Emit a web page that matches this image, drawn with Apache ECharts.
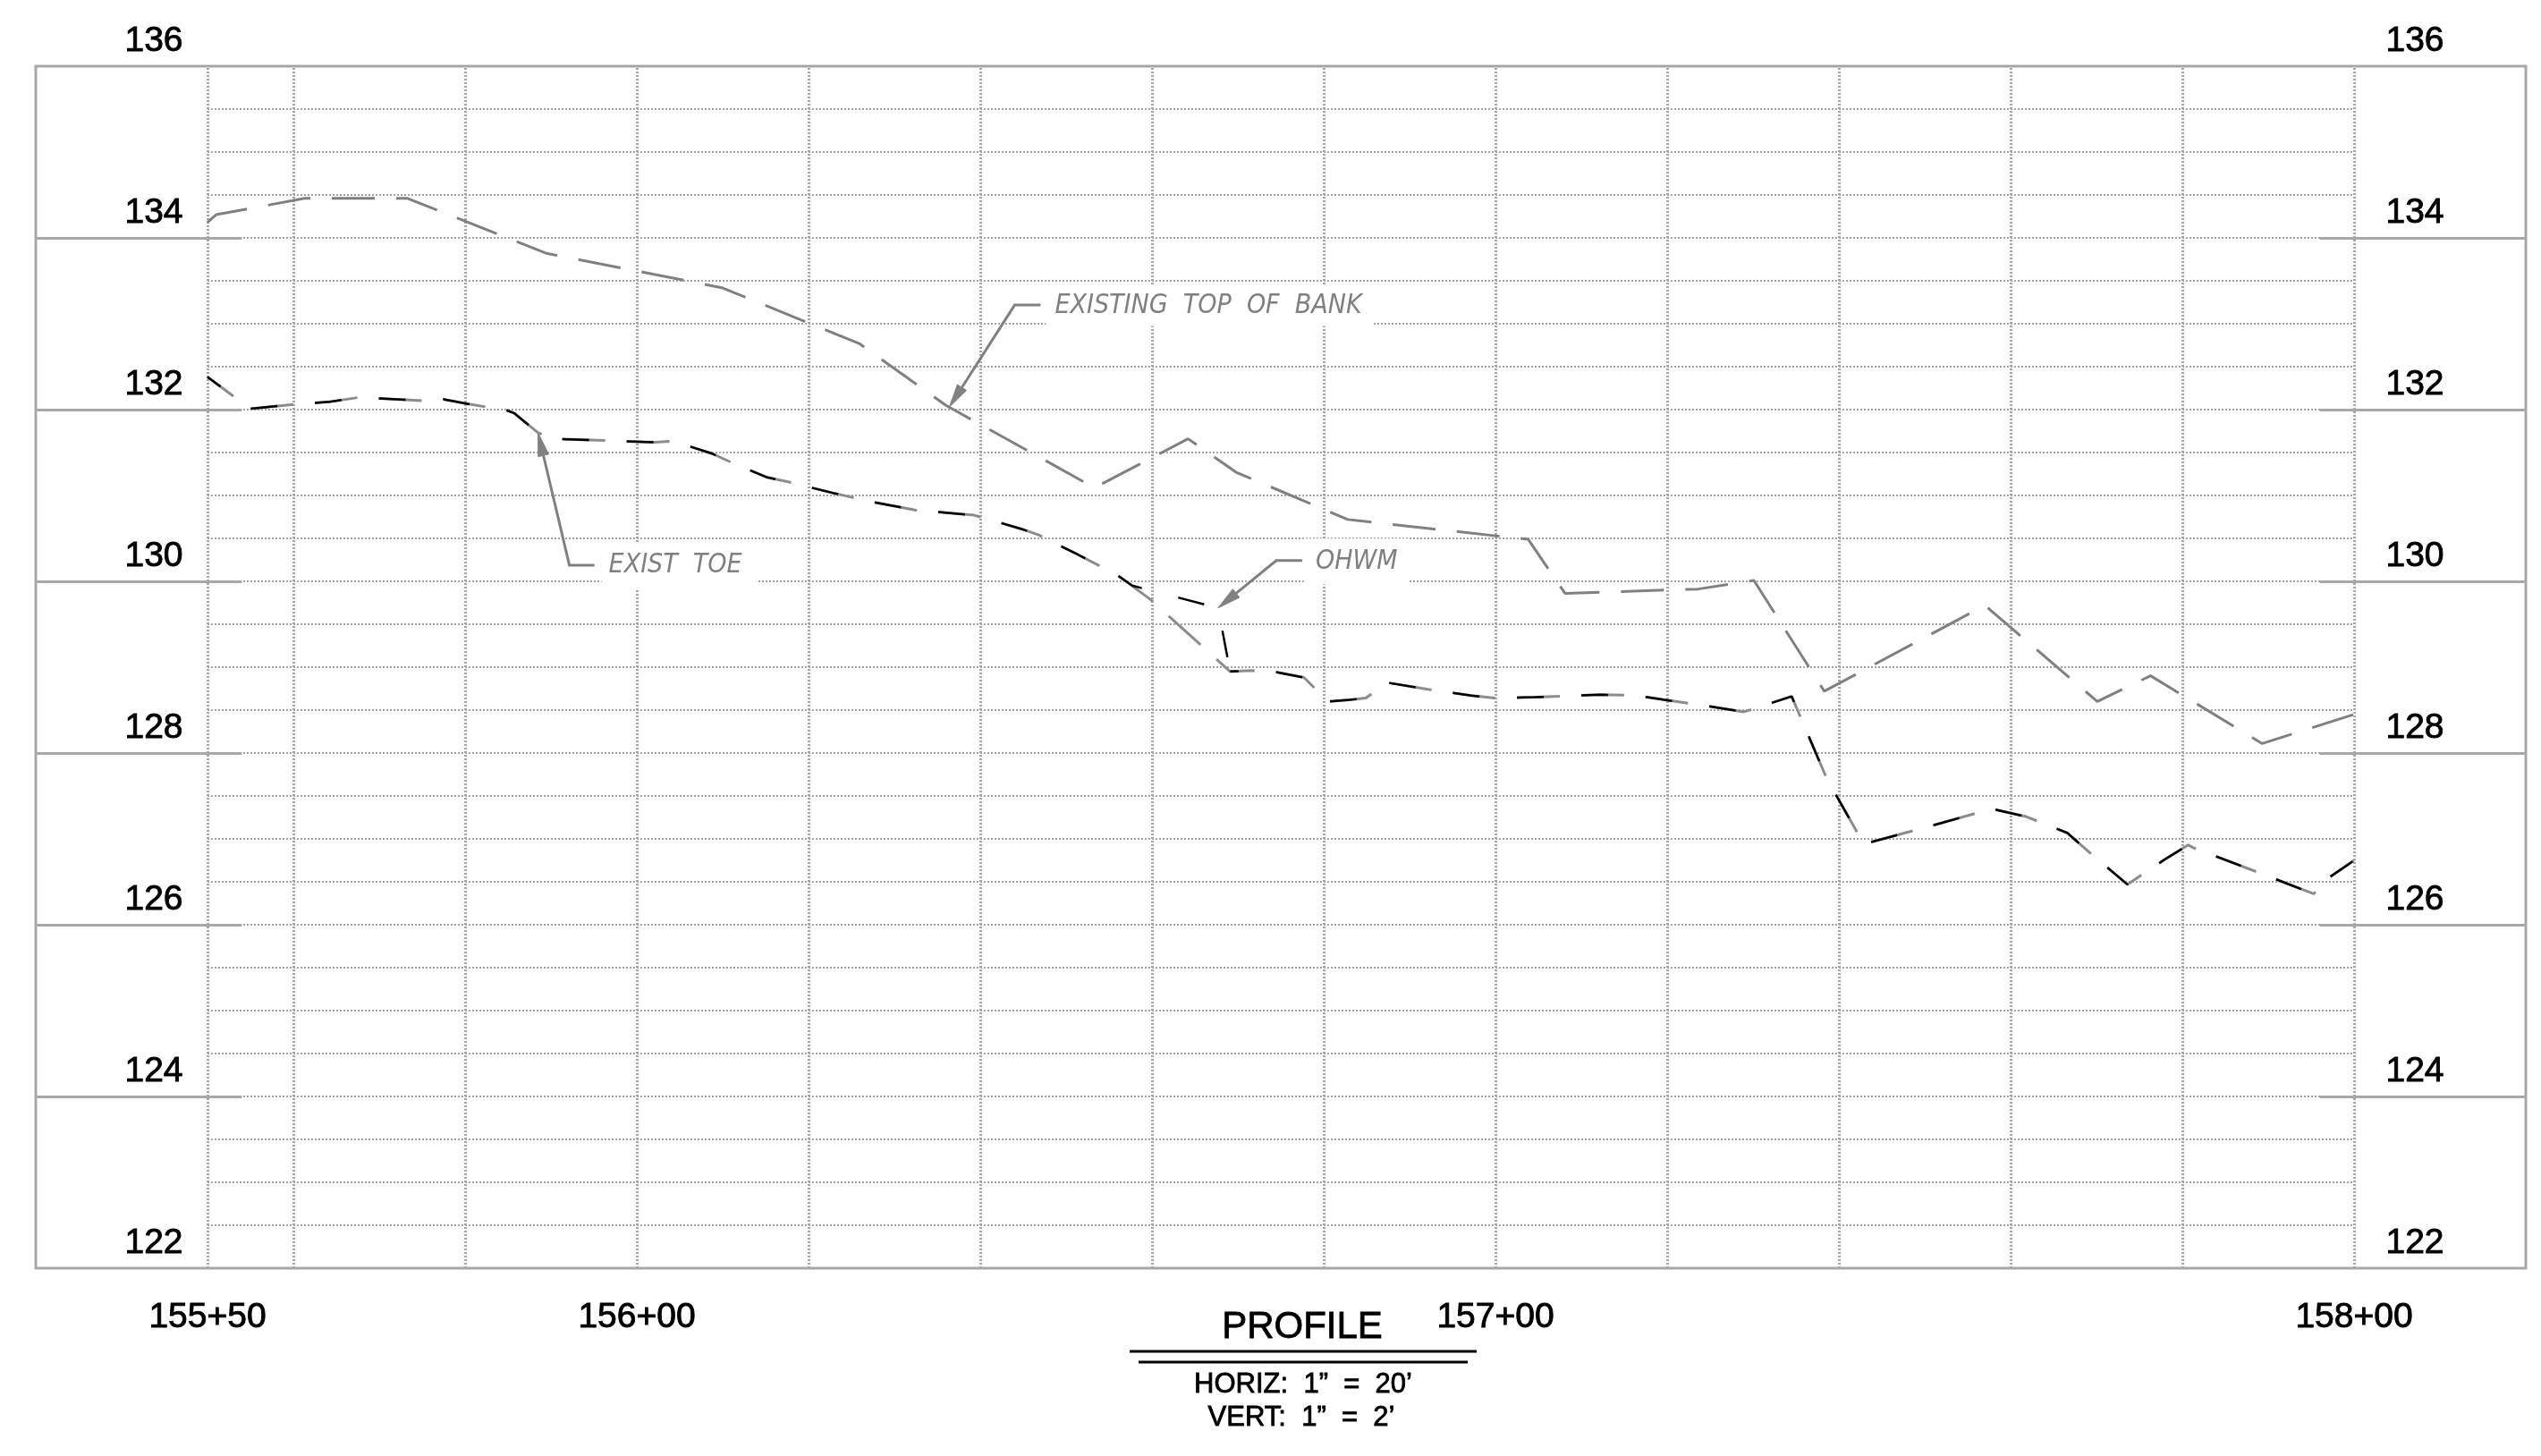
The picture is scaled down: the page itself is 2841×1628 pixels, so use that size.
<!DOCTYPE html>
<html><head><meta charset="utf-8">
<script src="https://cdn.jsdelivr.net/npm/echarts@6/dist/echarts.min.js"></script>
<style>html,body{margin:0;padding:0;background:#fff}#c{width:2841px;height:1628px}</style>
</head><body><div id="c"></div>
<script>
// ---------- data ----------
const stationGrid = [15550,15560,15580,15600,15620,15640,15660,15680,15700,15720,15740,15760,15780,15800];
const majorElev = [124,126,128,130,132,134];
const xTickStations = [15550,15600,15700,15800];
const xTickLabels = ['155+50','156+00','157+00','158+00'];
const yTickElev = [122,124,126,128,130,132,134,136];
const yTickLabels = ['122','124','126','128','130','132','134','136'];

// Existing top of bank
const tobStations = [15550,15551,15561.3,15573.3,15589.5,15609.9,15625.9,15636,15653.3,15664.2,15669.8,15682.8,15700,15703.8,15708.1,15723.6,15730.1,15738.3,15757,15770.1,15776.3,15789.3,15800];
const tobElev     = [134.18,134.27,134.46,134.46,133.82,133.42,132.77,132.05,131.09,131.66,131.27,130.72,130.53,130.49,129.86,129.91,130.01,128.72,129.72,128.60,128.90,128.11,128.45];

// Existing toe (gray)
const toeStations = [15550,15555,15560.1,15564.2,15567.5,15570,15575.7,15577.5,15580.1,15584.9,15585.7,15588.5,15590.4,15596.3,15602.1,15603.7,15606.2,15608.7,15611.8,15615.2,15618,15622.8,15627.7,15632.4,15639.3,15640,15644.8,15646.8,15651.4,15656,
  15659.8,15669.1,
  15671.7,15674.1,15677.7,15680.5,15683,15684.9,15687.4,15692.3,15697.2,15699.9,15704.6,15709.7,15712.2,15716.4,15719.7,15724.6,15728.9,15729.6,15734.5,15738.6,15742.9,15750.7,15757.8,15761.8,15766.6,15769.1,15773.6,15778.1,15780.7,15781.2,15788.3,15795.3,15796.8,15800];
const toeElev = [132.38,132.01,132.06,132.09,132.14,132.13,132.10,132.12,132.07,131.99,131.96,131.73,131.66,131.64,131.62,131.63,131.57,131.49,131.35,131.21,131.15,131.03,130.92,130.83,130.77,130.75,130.61,130.54,130.31,130.07,
  129.79,128.95,
  128.96,128.95,128.88,128.60,128.62,128.64,128.82,128.74,128.67,128.64,128.65,128.67,128.68,128.67,128.62,128.55,128.48,128.50,128.66,127.70,126.94,127.15,127.35,127.26,127.07,126.85,126.47,126.77,126.93,126.90,126.63,126.36,126.53,126.75];

// Ground line through OHWM (black)
const ohwmStations = [15550,15555,15560.1,15564.2,15567.5,15570,15575.7,15577.5,15580.1,15584.9,15585.7,15588.5,15590.4,15596.3,15602.1,15603.7,15606.2,15608.7,15611.8,15615.2,15618,15622.8,15627.7,15632.4,15639.3,15640,15644.8,15646.8,15651.4,15656,
  15657.7,15667.7,15669.1,
  15671.7,15674.1,15677.7,15680.5,15683,15684.9,15687.4,15692.3,15697.2,15699.9,15704.6,15709.7,15712.2,15716.4,15719.7,15724.6,15728.9,15729.6,15734.5,15738.6,15742.9,15750.7,15757.8,15761.8,15766.6,15769.1,15773.6,15778.1,15780.7,15781.2,15788.3,15795.3,15796.8,15800];
const ohwmElev = [132.38,132.01,132.06,132.09,132.14,132.13,132.10,132.12,132.07,131.99,131.96,131.73,131.66,131.64,131.62,131.63,131.57,131.49,131.35,131.21,131.15,131.03,130.92,130.83,130.77,130.75,130.61,130.54,130.31,130.07,
  129.95,129.69,128.95,
  128.96,128.95,128.88,128.60,128.62,128.64,128.82,128.74,128.67,128.64,128.65,128.67,128.68,128.67,128.62,128.55,128.48,128.50,128.66,127.70,126.94,127.15,127.35,127.26,127.07,126.85,126.47,126.77,126.93,126.90,126.63,126.36,126.53,126.75];

// annotation anchors (data coords of arrow tips)
const tobLabelPoint = [15636.4, 132.03];
const toeLabelPoint = [15588.5, 131.73];
const ohwmLabelPoint = [15667.7, 129.69];
const rejoinStation = 15669.1;

// ---------- chart ----------
const FONT = '"Liberation Sans", Arial, sans-serif';
const NOTEFONT = '"DejaVu Sans Condensed", "Liberation Sans Narrow", sans-serif';
const GRIDC = '#a6a6a6';
const DASH = 72, TOE_OFF = 12;
const zip = (a,b) => a.map((v,i)=>[v,b[i]]);

const chart = echarts.init(document.getElementById('c'), null, {renderer:'canvas'});

const yLabelCommon = {
  show:true, inside:true, align:'center', verticalAlign:'bottom', lineHeight:56,
  fontSize:39, fontFamily:FONT, color:'#000', textBorderColor:'#000', textBorderWidth:0.9,
  showMinLabel:true, showMaxLabel:true,
  formatter: v => { const i = yTickElev.indexOf(v); return i>=0 ? yTickLabels[i] : ''; }
};

const majorSegs = [];
majorElev.forEach(e => {
  majorSegs.push([{coord:[15530,e]},{coord:[15554,e]}]);
  majorSegs.push([{coord:[15796,e]},{coord:[15820,e]}]);
});

const kO = ohwmStations.indexOf(rejoinStation);
const kT = toeStations.indexOf(rejoinStation);
const ohwmData = zip(ohwmStations, ohwmElev);
const toeData = zip(toeStations, toeElev);

function baseOption(offB) {
  return {
  animation:false,
  backgroundColor:'#fff',
  grid:[
    {left:40, top:74, width:2784, height:1344, show:true, borderColor:'#a8a8a8', borderWidth:3, backgroundColor:'rgba(0,0,0,0)'},
    {left:232, top:74, width:2400, height:1344, show:false}
  ],
  xAxis:[
    {gridIndex:0, type:'value', min:15530, max:15820, show:false},
    {gridIndex:1, type:'value', min:15550, max:15800, interval:50,
     axisLine:{show:false}, axisTick:{show:false}, splitLine:{show:false},
     axisLabel:{show:true, margin:36, lineHeight:39, fontSize:39, fontFamily:FONT, color:'#000',
       textBorderColor:'#000', textBorderWidth:0.9,
       showMinLabel:true, showMaxLabel:true,
       formatter: v => { const i = xTickStations.indexOf(v); return i>=0 ? xTickLabels[i] : ''; }}}
  ],
  yAxis:[
    {gridIndex:0, type:'value', min:122, max:136, interval:2, position:'left',
     axisLine:{show:false}, axisTick:{show:false}, splitLine:{show:false},
     axisLabel:Object.assign({}, yLabelCommon, {margin:132})},
    {gridIndex:0, type:'value', min:122, max:136, interval:2, position:'right',
     axisLine:{show:false}, axisTick:{show:false}, splitLine:{show:false},
     axisLabel:Object.assign({}, yLabelCommon, {margin:124})},
    {gridIndex:1, type:'value', min:122, max:136, interval:0.5,
     axisLine:{show:false}, axisTick:{show:false}, axisLabel:{show:false},
     splitLine:{show:true, lineStyle:{color:GRIDC, width:2, type:[2,2]}}}
  ],
  series:[
    {type:'line', xAxisIndex:1, yAxisIndex:2, data:[], silent:true, z:2,
     markLine:{symbol:['none','none'], silent:true, animation:false, label:{show:false},
       lineStyle:{color:GRIDC, width:3, type:[2,2]},
       emphasis:{disabled:true},
       data: stationGrid.map(s => ({xAxis:s}))}},
    {type:'line', xAxisIndex:0, yAxisIndex:0, data:[], silent:true, z:2,
     markLine:{symbol:['none','none'], silent:true, animation:false, label:{show:false},
       lineStyle:{color:'#a8a8a8', width:3, type:'solid'},
       emphasis:{disabled:true},
       data: majorSegs}},
    {name:'EXISTING TOP OF BANK', type:'line', xAxisIndex:1, yAxisIndex:2, z:5,
     data: zip(tobStations, tobElev), symbol:'none', silent:true,
     lineStyle:{color:'#808080', width:3, type:[48,24], dashOffset:0}},
    {name:'EXIST TOE', type:'line', xAxisIndex:1, yAxisIndex:2, z:5,
     data: toeData, symbol:'none', silent:true,
     lineStyle:{color:'#8c8c8c', width:3, type:[48,24], dashOffset:TOE_OFF}},
    {name:'OHWM', type:'line', xAxisIndex:1, yAxisIndex:2, z:6,
     data: ohwmData.slice(0, kO+1), symbol:'none', silent:true,
     lineStyle:{color:'#000', width:2.5, type:[30,42], dashOffset:TOE_OFF}},
    {name:'OHWM ', type:'line', xAxisIndex:1, yAxisIndex:2, z:6,
     data: ohwmData.slice(kO), symbol:'none', silent:true,
     lineStyle:{color:'#000', width:2.5, type:[30,42], dashOffset:offB}}
  ]};
}

chart.setOption(baseOption(TOE_OFF));

const px = p => chart.convertToPixel({gridIndex:1}, p);
// phase of the gray toe line where the black line rejoins it
let Lg = 0;
for (let i=1;i<=kT;i++){ const a=px(toeData[i-1]), b=px(toeData[i]); Lg += Math.hypot(b[0]-a[0], b[1]-a[1]); }
chart.setOption(baseOption((Lg + TOE_OFF) % DASH), {notMerge:true});

// ---------- annotations ----------
const LEAD = '#808080';
function leader(tip, elbow, end) {
  const dx = elbow[0]-tip[0], dy = elbow[1]-tip[1], L = Math.hypot(dx,dy);
  const ux = dx/L, uy = dy/L, AL = 26, AW = 6;
  const bx = tip[0]+ux*AL, by = tip[1]+uy*AL;
  return [
    {type:'polyline', z:100, shape:{points:[end, elbow, [bx,by]]}, style:{stroke:LEAD, lineWidth:3, fill:null}},
    {type:'polygon', z:100, shape:{points:[tip, [bx-uy*AW, by+ux*AW], [bx+uy*AW, by-ux*AW]]}, style:{fill:LEAD, stroke:LEAD, lineWidth:1}}
  ];
}
function note(text, x, y, pad) {
  return {type:'text', z:99, x:x - pad[3], y:y, style:{text:text, fill:LEAD, fontSize:30, fontFamily:NOTEFONT, fontStyle:'italic',
    align:'left', verticalAlign:'middle', backgroundColor:'#fff', padding:pad}};
}
const t1 = px(tobLabelPoint), t2 = px(toeLabelPoint), t3 = px(ohwmLabelPoint);
const e1 = [t1[0]+73, t1[1]-114], e2 = [t2[0]+35, t2[1]+148], e3 = [t3[0]+65, t3[1]-53];
const g = [];
g.push(note('EXISTING  TOP  OF  BANK', e1[0]+45, e1[1]+1, [9,12,6,10]));
g.push(...leader(t1, e1, [e1[0]+29, e1[1]]));
g.push(note('EXIST  TOE', e2[0]+44, e2[1], [10,16,12,8]));
g.push(...leader(t2, e2, [e2[0]+28, e2[1]]));
g.push(note('OHWM', e3[0]+44, e3[1]+1, [12,12,9,12]));
g.push(...leader(t3, e3, [e3[0]+29, e3[1]]));

// title block
const titleStyle = {fill:'#000', fontFamily:FONT, align:'center', verticalAlign:'middle', stroke:'#000', lineWidth:0.8};
g.push({type:'text', z:100, x:1456, y:1484, style:Object.assign({text:'PROFILE', fontSize:42}, titleStyle)});
g.push({type:'line', z:100, shape:{x1:1263,y1:1511,x2:1651,y2:1511}, style:{stroke:'#000', lineWidth:3}});
g.push({type:'line', z:100, shape:{x1:1273,y1:1523,x2:1641,y2:1523}, style:{stroke:'#000', lineWidth:3}});
g.push({type:'text', z:100, x:1457, y:1548, style:Object.assign({text:'HORIZ:  1\u201D  =  20\u2019', fontSize:31}, titleStyle)});
g.push({type:'text', z:100, x:1455, y:1585, style:Object.assign({text:'VERT:  1\u201D  =  2\u2019', fontSize:31}, titleStyle)});

chart.setOption({graphic:{elements:g}});
</script>
</body></html>
